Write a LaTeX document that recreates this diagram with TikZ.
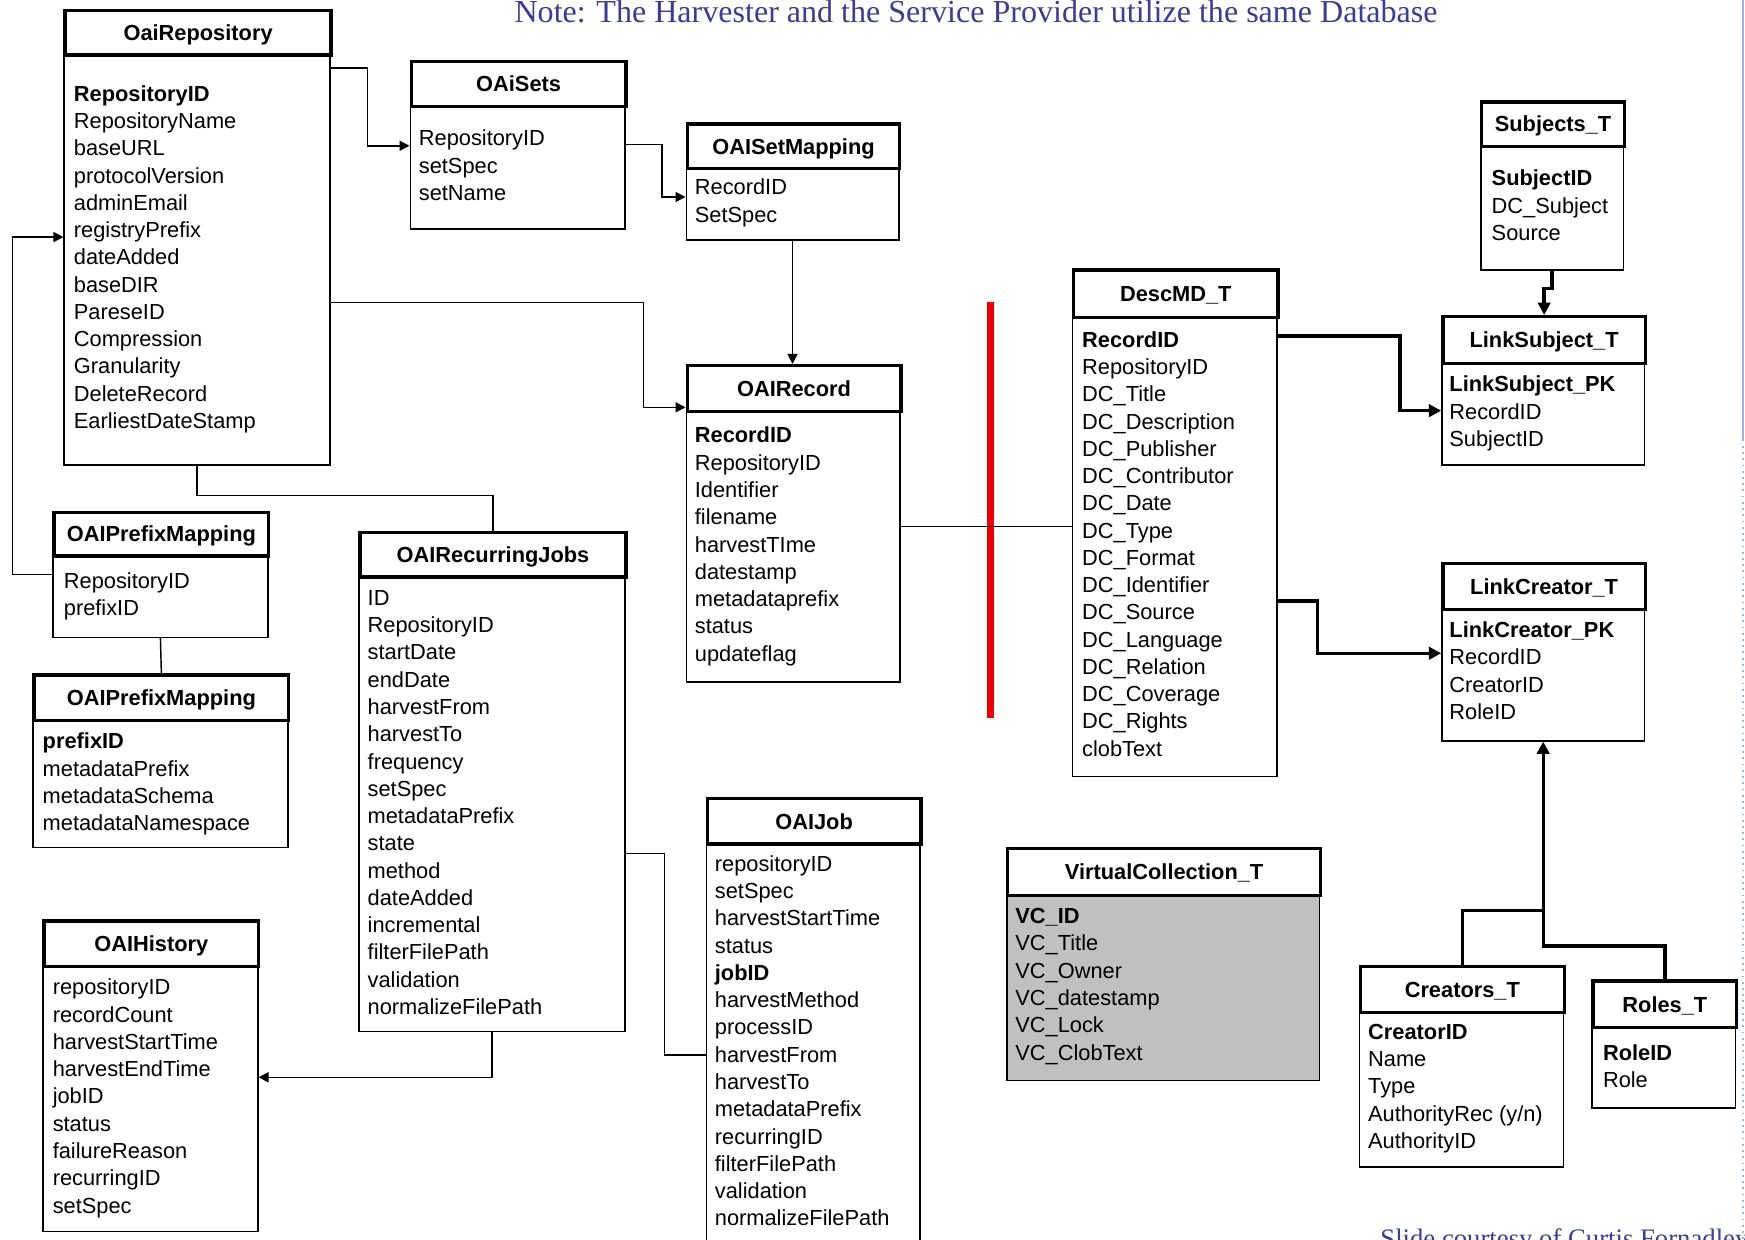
\documentclass[tikz,border=0pt]{standalone}
\usepackage{fontspec}
\setmainfont{Liberation Sans}
\newfontfamily\notefont{Liberation Serif}
\usetikzlibrary{arrows.meta}
\definecolor{noteblue}{RGB}{60,60,145}
\definecolor{vcgray}{RGB}{192,192,192}
\definecolor{edgeblue}{RGB}{160,175,235}
\definecolor{redbar}{RGB}{235,0,0}
\tikzset{
  tbox/.style={draw, line width=1.5pt, fill=white, inner sep=0pt, anchor=north west,
    font=\fontsize{9.8pt}{12pt}\selectfont\bfseries, text height=7pt, text depth=0pt},
  bbox/.style={draw, line width=0.65pt, inner sep=0pt, anchor=north west},
  fld/.style={anchor=base west, inner sep=0pt, font=\fontsize{9.8pt}{12pt}\selectfont},
  link/.style={draw, line width=0.65pt},
  hlink/.style={draw, line width=1.5pt},
  tip/.style={-{Triangle[length=4.5pt,width=4.5pt]}},
  htip/.style={-{Triangle[length=5.5pt,width=5.5pt]}},
}
\newcommand\ertable[8]{%
  \node[bbox, fill=#8, minimum width={(#3-#2)*0.5pt}, minimum height={(#6-#5)*0.5pt}] (#1-b) at (#2,#5) {};
  \node[tbox, minimum width={(#3-#2)*0.5pt}, minimum height={(#5-#4)*0.5pt}] (#1) at (#2,#4) {#7};
}
\newcommand\erfields[4]{%
  \foreach \f [count=\i] in {#4} \node[fld] (#1-f\i) at ({#2},{#3+7+(\i-1)*24.5}) {\f};
}
\begin{document}
\begin{tikzpicture}[x=0.5pt,y=-0.5pt]
\useasboundingbox[fill=white] (0,0) rectangle (1568,1114.2);

% right slide edge
\draw[edgeblue, line width=0.8pt] (1566.5,0) -- (1566.5,395);
\draw[edgeblue, line width=0.8pt, dotted] (1566.5,395) -- (1566.5,1114.2);

% texts
\node[anchor=base west, inner sep=0pt, text=noteblue, font=\notefont\fontsize{14.4pt}{16pt}\selectfont] (note) at (462,20)
  {Note: The Harvester and the Service Provider utilize the same Database};
\node[anchor=base west, inner sep=0pt, text=noteblue, font=\notefont\fontsize{12pt}{14pt}\selectfont] (credit) at (1240,1121)
  {Slide courtesy of Curtis Fornadley};

% red separator
\draw[redbar, line width=3pt] (890,271) -- (890,645);

% tables
\ertable{repo}{57}{296}{8}{48}{417}{OaiRepository}{white}
\erfields{repo}{66}{84}{\textbf{RepositoryID},RepositoryName,baseURL,protocolVersion,adminEmail,registryPrefix,dateAdded,baseDIR,PareseID,Compression,Granularity,DeleteRecord,EarliestDateStamp}

\ertable{sets}{368}{561}{54}{94}{205}{OAiSets}{white}
\erfields{sets}{376}{124}{RepositoryID,setSpec,setName}

\ertable{setmap}{616}{807}{110}{150}{215}{OAISetMapping}{white}
\erfields{setmap}{624}{168}{RecordID,SetSpec}

\ertable{record}{616}{808}{327}{368}{612}{OAIRecord}{white}
\erfields{record}{624}{391}{\textbf{RecordID},RepositoryID,Identifier,filename,harvestTIme,datestamp,metadataprefix,status,updateflag}

\ertable{pmA}{47}{240}{459}{498}{572}{OAIPrefixMapping}{white}
\erfields{pmA}{57}{522}{RepositoryID,prefixID}

\ertable{pmB}{29}{258}{605}{646}{761}{OAIPrefixMapping}{white}
\erfields{pmB}{38}{666}{\textbf{prefixID},metadataPrefix,metadataSchema,metadataNamespace}

\ertable{rjobs}{322}{561}{477}{517}{926}{OAIRecurringJobs}{white}
\erfields{rjobs}{330}{537}{ID,RepositoryID,startDate,endDate,harvestFrom,harvestTo,frequency,setSpec,metadataPrefix,state,method,dateAdded,incremental,filterFilePath,validation,normalizeFilePath}

\ertable{hist}{38}{231}{826}{867}{1106}{OAIHistory}{white}
\erfields{hist}{47}{887}{repositoryID,recordCount,harvestStartTime,harvestEndTime,jobID,status,failureReason,recurringID,setSpec}

\ertable{job}{634}{826}{716}{757}{1125}{OAIJob}{white}
\erfields{job}{642}{776}{repositoryID,setSpec,harvestStartTime,status,\textbf{jobID},harvestMethod,processID,harvestFrom,harvestTo,metadataPrefix,recurringID,filterFilePath,validation,normalizeFilePath}

\ertable{desc}{963}{1147}{241}{284}{697}{DescMD\_T}{white}
\erfields{desc}{972}{305}{\textbf{RecordID},RepositoryID,DC\_Title,DC\_Description,DC\_Publisher,DC\_Contributor,DC\_Date,DC\_Type,DC\_Format,DC\_Identifier,DC\_Source,DC\_Language,DC\_Relation,DC\_Coverage,DC\_Rights,clobText}

\ertable{subj}{1330}{1458}{90}{130}{242}{Subjects\_T}{white}
\erfields{subj}{1340}{160}{\textbf{SubjectID},DC\_Subject,Source}

\ertable{lsub}{1295}{1477}{283}{325}{417}{LinkSubject\_T}{white}
\erfields{lsub}{1302}{345}{\textbf{LinkSubject\_PK},RecordID,SubjectID}

\ertable{lcre}{1295}{1477}{505}{546}{665}{LinkCreator\_T}{white}
\erfields{lcre}{1302}{566}{\textbf{LinkCreator\_PK},RecordID,CreatorID,RoleID}

\ertable{vc}{904}{1185}{761}{803}{970}{VirtualCollection\_T}{vcgray}
\erfields{vc}{912}{823}{\textbf{VC\_ID},VC\_Title,VC\_Owner,VC\_datestamp,VC\_Lock,VC\_ClobText}

\ertable{creators}{1221}{1404}{867}{908}{1048}{Creators\_T}{white}
\erfields{creators}{1229}{927}{\textbf{CreatorID},Name,Type,AuthorityRec (y/n),AuthorityID}

\ertable{roles}{1430}{1559}{880}{922}{995}{Roles\_T}{white}
\erfields{roles}{1440}{946}{\textbf{RoleID},Role}

% thin connectors
\draw[link, tip] (repo-b.east |- 0,61) -- (330,61) -- (330,131) -- (sets-b.west |- 0,131);
\draw[link, tip] (sets-b.east |- 0,130) -- (595,130) -- (595,177) -- (setmap-b.west |- 0,177);
\draw[link, tip] (setmap-b.south) -- (setmap-b.south |- record.north);
\draw[link, tip] (repo-b.east |- 0,272) -- (578,272) -- (578,366) -- (record.west |- 0,366);
\draw[link] (repo-b.south) |- (rjobs.north |- 0,445) -- (rjobs.north);
\draw[link, tip] (pmA-b.west |- 0,516) -- (11,516) -- (11,213) -- (repo-b.west |- 0,213);
\draw[link] (pmA-b.south) -- (pmB.north);
\draw[link, tip] (rjobs-b.south) -- (rjobs-b.south |- 0,968) -- (hist-b.east |- 0,968);
\draw[link] (rjobs-b.east |- 0,767) -- (597,767) -- (597,948) -- (job-b.west |- 0,948);
\draw[link] (record-b.east |- 0,473) -- (desc-b.west |- 0,473);

% thick connectors
\draw[hlink, htip] (desc-b.east |- 0,302) -- (1258,302) -- (1258,369) -- (lsub-b.west |- 0,369);
\draw[hlink, htip] (subj-b.south) -- ++(0,16) -| (lsub.north);
\draw[hlink, htip] (desc-b.east |- 0,540) -- (1184,540) -- (1184,587) -- (lcre-b.west |- 0,587);
\coordinate (cjoin) at (lcre-b.south |- 0,818);
\draw[hlink, htip] (creators.north) -- (creators.north |- 0,818) -- (cjoin) -- (lcre-b.south);
\draw[hlink] (roles.north) -- (roles.north |- 0,850) -- (lcre-b.south |- 0,850) -- (cjoin);
\end{tikzpicture}
\end{document}
